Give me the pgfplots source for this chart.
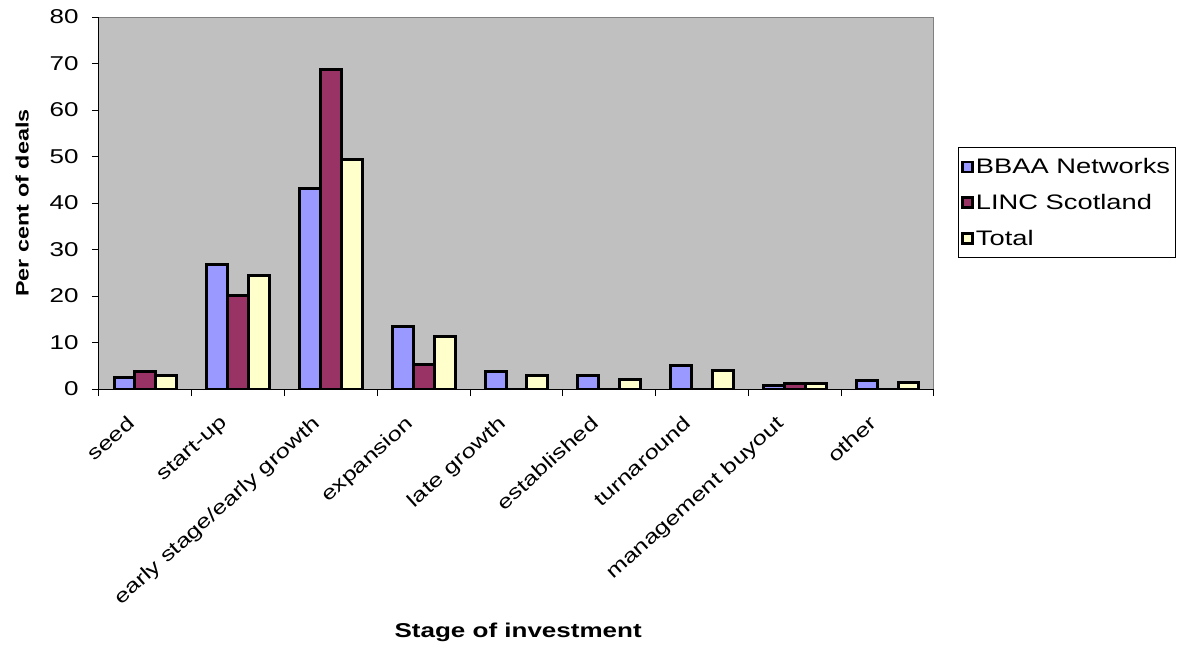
\documentclass[border=0pt]{standalone}
\usepackage{pgfplots}
\pgfplotsset{compat=1.18}
\usepackage{fontspec}
\setmainfont{Liberation Sans}[FakeStretch=1.3]
\definecolor{bbaa}{HTML}{9999FF}
\definecolor{linc}{HTML}{993366}
\definecolor{tot}{HTML}{FFFFCC}
\definecolor{plotbg}{HTML}{C0C0C0}
\begin{document}
\begin{tikzpicture}[x=1pt,y=1pt]
\useasboundingbox (-99,-257) rectangle (1084,389);
\begin{axis}[
  at={(0,0)}, anchor=south west,
  scale only axis, width=835pt, height=372pt,
  ybar=0pt, bar width=0.225,
  xmin=-0.5, xmax=8.5, ymin=0, ymax=80,
  axis x line*=bottom, axis y line*=left,
  axis line style={black, line width=1pt},
  axis background/.style={fill=plotbg},
  xtick={-0.5,0.5,...,8.5},
  x tick label as interval,
  xticklabels={seed,start-up,early stage/early growth,expansion,late growth,established,turnaround,management buyout,other},
  xticklabel style={xshift=-19pt, yshift=-17pt, rotate=42, anchor=north east, font=\fontsize{19.5}{21}\selectfont, inner sep=1pt},
  ytick={0,10,...,80},
  yticklabel style={font=\fontsize{20}{22}\selectfont, xshift=-10pt},
  /pgf/number format/assume math mode=true,
  tick align=outside, major tick length=7pt,
  tick style={black, line width=1pt},
  ylabel={\bfseries Per cent of deals},
  ylabel style={at={(axis description cs:-0.092,0.5)}, anchor=center, font=\fontsize{18}{20}\selectfont},
  xlabel={\bfseries Stage of investment},
  xlabel style={at={(axis description cs:0.502,-0.653)}, anchor=center, font=\fontsize{20}{22}\selectfont},
  legend style={at={(axis description cs:1.0287,0.6505)}, anchor=north west, draw=black, line width=1pt, fill=white,
    font=\fontsize{21}{24}\selectfont, row sep=15pt, inner xsep=3pt, inner ysep=9pt, cells={anchor=west}},
  legend image code/.code={\draw[#1, line width=2.5pt] (0pt,-5pt) rectangle (10pt,5pt);},
  every axis plot/.append style={draw=black, line width=3pt},
]
\addplot[fill=bbaa] coordinates {(0,2.5) (1,26.7) (2,43.1) (3,13.4) (4,3.8) (5,2.9) (6,5.0) (7,0.7) (8,1.9)};
\addplot[fill=linc] coordinates {(0,3.8) (1,20.2) (2,68.8) (3,5.2) (4,0) (5,0) (6,0) (7,1.2) (8,0)};
\addplot[fill=tot] coordinates {(0,3.0) (1,24.5) (2,49.4) (3,11.3) (4,2.9) (5,2.1) (6,3.9) (7,1.2) (8,1.4)};
\legend{BBAA Networks, LINC Scotland, Total}
\draw[gray, line width=2pt] (rel axis cs:0,1) -- (rel axis cs:1,1) -- (rel axis cs:1,0);
\end{axis}
\end{tikzpicture}
\end{document}
